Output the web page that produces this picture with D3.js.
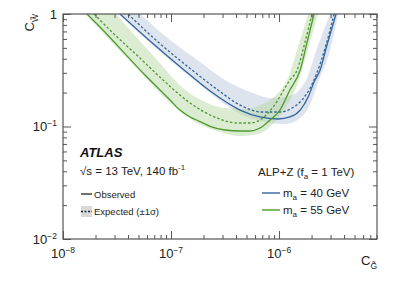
<!DOCTYPE html>
<html>
<head>
<meta charset="utf-8">
<script src="https://cdn.jsdelivr.net/npm/d3@7"></script>
<style>
  body { margin: 0; background: #fff; }
  svg text { font-family: "Liberation Sans", Arial, Helvetica, sans-serif; }
</style>
</head>
<body>
<div id="chart"></div>
<script>
// contours: [C_G, C_W]
const blueObserved = [[3.37e-8, 1], [6.39e-8, 0.575], [1.32e-7, 0.318], [2.30e-7, 0.2067], [4.36e-7, 0.140],
  [6.67e-7, 0.1215], [9.79e-7, 0.1166], [1.26e-6, 0.1215], [1.57e-6, 0.140], [1.86e-6, 0.183],
  [2.11e-6, 0.249], [2.40e-6, 0.318], [2.78e-6, 0.530], [3.37e-6, 1]];
const blueExpected = [[4.00e-8, 1], [7.58e-8, 0.564], [1.565e-7, 0.318], [2.72e-7, 0.211], [4.36e-7, 0.155],
  [6.96e-7, 0.1345], [1.02e-6, 0.1345], [1.32e-6, 0.146], [1.63e-6, 0.172], [1.94e-6, 0.220],
  [2.20e-6, 0.287], [2.72e-6, 0.530], [3.23e-6, 1]];
const blueUp = [[5.16e-8, 1], [9.79e-8, 0.587], [1.86e-7, 0.375], [3.16e-7, 0.259], [5.39e-7, 0.203],
  [8.61e-7, 0.179], [1.26e-6, 0.187], [1.57e-6, 0.215], [1.78e-6, 0.259], [2.30e-6, 0.530], [2.97e-6, 1]];
const blueDown = [[3.23e-8, 1], [6.39e-8, 0.552], [1.32e-7, 0.305], [2.56e-7, 0.183], [4.36e-7, 0.129],
  [7.42e-7, 0.1096], [1.14e-6, 0.1052], [1.57e-6, 0.119], [1.94e-6, 0.158], [2.30e-6, 0.249],
  [2.97e-6, 0.479], [3.52e-6, 1]];

const greenObserved = [[1.67e-8, 1], [2.20e-8, 0.766], [5.74e-8, 0.287], [7.91e-8, 0.211], [9.79e-8, 0.172],
  [1.21e-7, 0.140], [1.50e-7, 0.1215], [1.86e-7, 0.1106], [2.30e-7, 0.1003], [3.16e-7, 0.0931],
  [4.36e-7, 0.0912], [5.39e-7, 0.0912], [6.67e-7, 0.097], [8.25e-7, 0.1142], [1.02e-6, 0.140],
  [1.26e-6, 0.211], [1.57e-6, 0.318], [1.82e-6, 0.564], [2.11e-6, 1]];
const greenExpected = [[1.94e-8, 1], [2.84e-8, 0.692], [5.16e-8, 0.406], [8.43e-8, 0.259], [1.50e-7, 0.162],
  [2.67e-7, 0.119], [4.09e-7, 0.1074], [5.39e-7, 0.1074], [6.67e-7, 0.1142], [8.80e-7, 0.149],
  [1.26e-6, 0.259], [1.47e-6, 0.318], [1.74e-6, 0.564], [2.02e-6, 1]];
const greenUp = [[3.10e-8, 1], [7.42e-8, 0.390], [1.29e-7, 0.220], [2.06e-7, 0.165], [3.16e-7, 0.146],
  [4.85e-7, 0.143], [6.96e-7, 0.158], [9.79e-7, 0.199], [1.21e-6, 0.270], [1.47e-6, 0.479], [1.86e-6, 1]];
const greenDown = [[1.60e-8, 1], [5.50e-8, 0.287], [9.79e-8, 0.162], [1.67e-7, 0.1096], [2.84e-7, 0.0894],
  [4.36e-7, 0.0823], [6.39e-7, 0.0858], [8.61e-7, 0.1031], [1.19e-6, 0.155], [1.53e-6, 0.259],
  [1.90e-6, 0.530], [2.30e-6, 1]];

const xMajor = [1e-8, 1e-7, 1e-6];
const xLabels = ["−8", "−7", "−6"];
const yMajor = [0.01, 0.1, 1];

const W = 397, H = 285;
const margin = { top: 14, right: 20, bottom: 46, left: 63 };
const width = W - margin.left - margin.right;
const height = H - margin.top - margin.bottom;

const blue = "#30649c", green = "#4b9a2c";

const svg = d3.select('#chart').append('svg')
  .attr('width', W).attr('height', H);

const g = svg.append('g').attr('transform', `translate(${margin.left},${margin.top})`);

const x = d3.scaleLog().domain([1e-8, 8.07e-6]).range([0, width]);
const y = d3.scaleLog().domain([0.01, 1]).range([height, 0]);

g.append('clipPath').attr('id', 'clip')
  .append('rect').attr('width', width).attr('height', height);

const plot = g.append('g').attr('clip-path', 'url(#clip)');

const line = d3.line()
  .x(d => x(d[0])).y(d => y(d[1]))
  .curve(d3.curveMonotoneX);

// bands: +1 sigma contour, then the -1 sigma contour drawn back along the top edge
const band = (up, down) => line(up) + 'L' + line(down.slice().reverse()).slice(1) + 'Z';
plot.append('path').attr('d', band(blueUp, blueDown))
  .attr('fill', '#b4c4d6').attr('fill-opacity', 0.45);
plot.append('path').attr('d', band(greenUp, greenDown))
  .attr('fill', '#b2d59c').attr('fill-opacity', 0.45);

[[blueExpected, blue, '2.5,2'], [greenExpected, green, '2.5,2'],
 [blueObserved, blue, null], [greenObserved, green, null]].forEach(([d, c, dash]) => {
  plot.append('path').attr('d', line(d))
    .attr('fill', 'none').attr('stroke', c).attr('stroke-width', 1.3)
    .attr('stroke-dasharray', dash);
});

// ticks on all four sides, pointing inside
const xMinor = [];
const yMinor = [];
[1e-8, 1e-7, 1e-6].forEach(p => { for (let k = 2; k <= 9; k++) if (p * k < 8.07e-6) xMinor.push(p * k); });
[0.01, 0.1].forEach(p => { for (let k = 2; k <= 9; k++) yMinor.push(p * k); });

const axisStyle = sel => {
  sel.select('.domain').remove();
  sel.selectAll('.tick line').attr('stroke', '#555');
  sel.selectAll('.tick text').remove();
};

g.append('g').attr('transform', `translate(0,${height})`)
  .call(d3.axisBottom(x).tickValues(xMajor).tickSize(-8)).call(axisStyle);
g.append('g').attr('transform', `translate(0,${height})`)
  .call(d3.axisBottom(x).tickValues(xMinor).tickSize(-4)).call(axisStyle);
g.append('g').call(d3.axisTop(x).tickValues(xMajor).tickSize(-8)).call(axisStyle);
g.append('g').call(d3.axisTop(x).tickValues(xMinor).tickSize(-4)).call(axisStyle);
g.append('g').call(d3.axisLeft(y).tickValues(yMajor).tickSize(-8)).call(axisStyle);
g.append('g').call(d3.axisLeft(y).tickValues(yMinor).tickSize(-4)).call(axisStyle);
g.append('g').attr('transform', `translate(${width},0)`)
  .call(d3.axisRight(y).tickValues(yMajor).tickSize(-8)).call(axisStyle);
g.append('g').attr('transform', `translate(${width},0)`)
  .call(d3.axisRight(y).tickValues(yMinor).tickSize(-4)).call(axisStyle);

g.append('rect').attr('width', width).attr('height', height)
  .attr('fill', 'none').attr('stroke', '#555').attr('stroke-width', 1.2);

// tick labels
xMajor.forEach((v, i) => {
  const t = g.append('text').attr('x', x(v)).attr('y', height + 19)
    .attr('text-anchor', 'middle').attr('font-size', 13).attr('fill', '#222');
  t.append('tspan').text('10');
  t.append('tspan').attr('dy', -5).attr('font-size', 8.5).text(xLabels[i]);
});
g.append('text').attr('x', -6).attr('y', y(1) + 4.5).attr('text-anchor', 'end')
  .attr('font-size', 13).attr('fill', '#222').text('1');
[[0.1, '−1'], [0.01, '−2']].forEach(([v, e]) => {
  const t = g.append('text').attr('x', -6).attr('y', y(v) + 4.5)
    .attr('text-anchor', 'end').attr('font-size', 13).attr('fill', '#222');
  t.append('tspan').text('10');
  t.append('tspan').attr('dy', -5).attr('font-size', 8.5).text(e);
});

// axis titles
const yt = svg.append('text').attr('transform', 'translate(34,14) rotate(-90)')
  .attr('text-anchor', 'end').attr('font-size', 13).attr('fill', '#222');
yt.append('tspan').text('C');
yt.append('tspan').attr('dy', 4).attr('font-size', 8.5).text('W\u0303');

const xt = svg.append('text').attr('x', 377).attr('y', 265)
  .attr('text-anchor', 'end').attr('font-size', 13).attr('fill', '#222');
xt.append('tspan').text('C');
xt.append('tspan').attr('dy', 4).attr('font-size', 8.5).text('G\u0303');

// labels and legends
svg.append('text').attr('x', 80).attr('y', 157).attr('font-size', 13)
  .attr('font-weight', 'bold').attr('font-style', 'italic').attr('fill', '#111').text('ATLAS');
const sq = svg.append('text').attr('x', 80).attr('y', 175).attr('font-size', 11.5).attr('fill', '#222');
sq.append('tspan').text('√s = 13 TeV, 140 fb');
sq.append('tspan').attr('dy', -5).attr('font-size', 8).text('-1');

svg.append('line').attr('x1', 81).attr('x2', 92).attr('y1', 194).attr('y2', 194)
  .attr('stroke', '#222').attr('stroke-width', 1.3);
svg.append('text').attr('x', 94).attr('y', 197.5).attr('font-size', 9.5).attr('fill', '#222').text('Observed');
svg.append('rect').attr('x', 81).attr('y', 206).attr('width', 11).attr('height', 11).attr('fill', '#d9d9d9');
svg.append('line').attr('x1', 81).attr('x2', 92).attr('y1', 211.5).attr('y2', 211.5)
  .attr('stroke', '#222').attr('stroke-width', 1.3).attr('stroke-dasharray', '2,1.5');
svg.append('text').attr('x', 94).attr('y', 215).attr('font-size', 9.5).attr('fill', '#222').text('Expected (±1σ)');

const alp = svg.append('text').attr('x', 258).attr('y', 176).attr('font-size', 11.5).attr('fill', '#222');
alp.append('tspan').text('ALP+Z (f');
alp.append('tspan').attr('dy', 3).attr('font-size', 8).text('a');
alp.append('tspan').attr('dy', -3).text(' = 1 TeV)');

[[blue, 193, '40'], [green, 210, '55']].forEach(([c, yy, m]) => {
  svg.append('line').attr('x1', 262).attr('x2', 280).attr('y1', yy).attr('y2', yy)
    .attr('stroke', c).attr('stroke-width', 1.4);
  const t = svg.append('text').attr('x', 283).attr('y', yy + 4).attr('font-size', 11.5).attr('fill', '#222');
  t.append('tspan').text('m');
  t.append('tspan').attr('dy', 3).attr('font-size', 8).text('a');
  t.append('tspan').attr('dy', -3).text(` = ${m} GeV`);
});
</script>
</body>
</html>
